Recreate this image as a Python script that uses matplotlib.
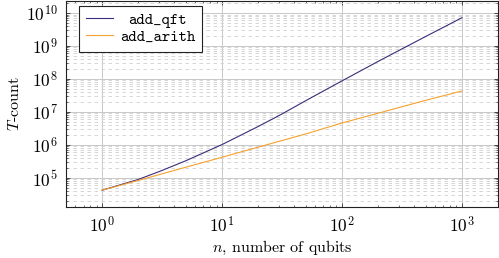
import matplotlib
matplotlib.use("Agg")
import matplotlib.pyplot as plt
from matplotlib.ticker import LogLocator, NullFormatter

# Data
n_qft = [1, 2, 3, 5, 7, 10, 20, 30, 50, 70, 100, 200, 500, 1000]
t_qft = [4.2e4, 8.9e4, 1.55e5, 3.3e5, 5.7e5, 1.02e6, 3.6e6, 7.8e6, 2.2e7,
         4.3e7, 8.7e7, 3.4e8, 1.95e9, 7.2e9]
n_arith = [1, 2, 5, 10, 20, 50, 100, 200, 500, 1000]
t_arith = [4.2e4, 8.3e4, 2.1e5, 4.2e5, 8.5e5, 2.15e6, 4.6e6, 9.1e6, 2.25e7, 4.3e7]
labels = ["add_qft", "add_arith"]
colors = ["#3d2b78", "#f7a12c"]

plt.rcParams['font.family'] = ['cmr10', 'DejaVu Serif']
plt.rcParams['mathtext.fontset'] = 'cm'
plt.rcParams['axes.formatter.use_mathtext'] = True
plt.rcParams['font.size'] = 11.5

fig = plt.figure(figsize=(4.99, 2.58), dpi=100)
ax = fig.add_axes([66/499, 1-207/258, (498-66)/499, 206.5/258])

ax.plot(n_qft, t_qft, color=colors[0], lw=0.8, label=labels[0])
ax.plot(n_arith, t_arith, color=colors[1], lw=0.8, label=labels[1])

ax.set_xscale('log')
ax.set_yscale('log')
ax.set_xlim(0.5, 2000)
ax.set_ylim(1.3e4, 2.4e10)

ax.xaxis.set_major_locator(LogLocator(base=10, numticks=20))
ax.xaxis.set_minor_locator(LogLocator(base=10, subs=range(2, 10), numticks=50))
ax.yaxis.set_major_locator(LogLocator(base=10, numticks=20))
ax.yaxis.set_minor_locator(LogLocator(base=10, subs=range(2, 10), numticks=50))
ax.xaxis.set_minor_formatter(NullFormatter())
ax.yaxis.set_minor_formatter(NullFormatter())

ax.grid(True, which='major', color='#c8c8c8', lw=0.7, ls='-')
ax.grid(True, which='minor', axis='y', color='#d6d6d6', lw=0.7, ls=(0, (3.6, 3.6)))
ax.set_axisbelow(True)

ax.tick_params(which='both', direction='in', top=True, right=True, color='#333333')
ax.tick_params(which='major', length=3, width=0.6, pad=6, labelsize=12.5)
ax.tick_params(which='minor', length=1.7, width=0.5)
for s in ax.spines.values():
    s.set_linewidth(0.8)
    s.set_color('#222222')

ax.set_xlabel(r'$n$, number of qubits', labelpad=2)
ax.set_ylabel(r'$T$-count', labelpad=3)

leg = ax.legend(loc='upper left', prop={'family': 'cmtt10', 'size': 11.5},
                frameon=True, fancybox=False, edgecolor='#222222',
                framealpha=1, handlelength=1.7, handletextpad=0.4,
                borderpad=0.45, labelspacing=0.12, borderaxespad=0,
                bbox_to_anchor=(13/432, 1 - 5/206.5))
leg.get_frame().set_linewidth(0.8)
leg.get_texts()[0].set_position((8.4, 0))

fig.savefig('out.png', dpi=100)
